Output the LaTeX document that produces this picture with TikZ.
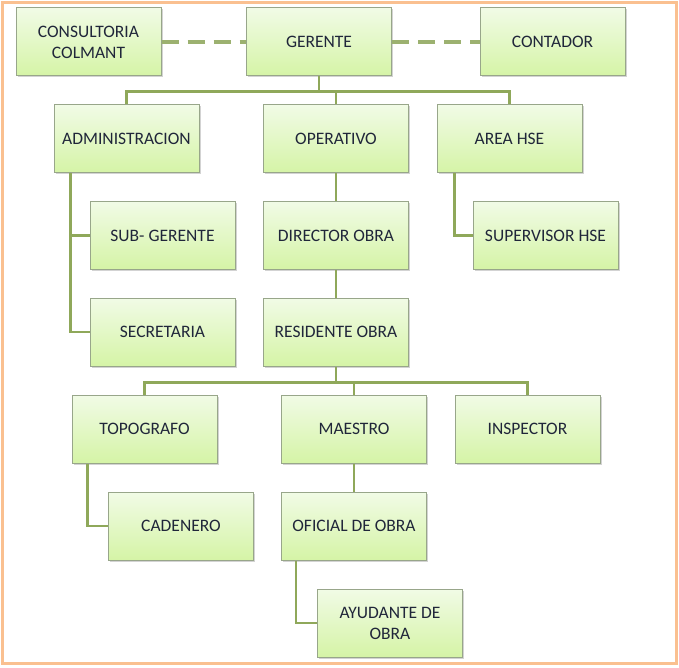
\documentclass[tikz,border=0pt]{standalone}
\usepackage{fontspec}
\setmainfont{Carlito}
\usetikzlibrary{shadows,calc}
\definecolor{boxtop}{HTML}{F1FBE6}
\definecolor{boxbot}{HTML}{D5F4A6}
\definecolor{boxline}{HTML}{98A68A}
\definecolor{conn}{HTML}{8FA85A}
\definecolor{dashc}{HTML}{9CB170}
\definecolor{frame}{HTML}{FAC090}
\definecolor{txt}{HTML}{20263A}
\tikzset{
  orgbox/.style={rectangle, draw=boxline, line width=1pt, top color=boxtop, bottom color=boxbot,
    minimum width=145pt, minimum height=68pt, align=center, font=\fontsize{17.5}{21}\selectfont,
    text=txt, drop shadow={shadow xshift=1.5pt, shadow yshift=-1.5pt, opacity=0.35}},
  link/.style={draw=conn, line width=2.5pt},
  dlink/.style={draw=dashc, line width=4.5pt, dash pattern=on 17pt off 9pt}
}
\begin{document}
\begin{tikzpicture}[x=1pt,y=-1pt]
\useasboundingbox (0,0) rectangle (679,668);
\draw[frame, line width=2.5pt] (2.5,2.5) rectangle (676.5,663.5);
\node[orgbox] (cons) at (88.5,42) {CONSULTORIA\\COLMANT};
\node[orgbox] (ger) at (319,42) {GERENTE};
\node[orgbox] (cont) at (552.5,42) {CONTADOR};
\node[orgbox] (adm) at (126.5,139) {ADMINISTRACION};
\node[orgbox] (oper) at (336,139) {OPERATIVO};
\node[orgbox] (hse) at (509.5,139) {AREA HSE};
\node[orgbox] (sub) at (162.5,235.5) {SUB- GERENTE};
\node[orgbox] (dir) at (336,235.5) {DIRECTOR OBRA};
\node[orgbox] (sup) at (545.5,235.5) {SUPERVISOR HSE};
\node[orgbox] (sec) at (162.5,332) {SECRETARIA};
\node[orgbox] (res) at (336,332) {RESIDENTE OBRA};
\node[orgbox] (topo) at (144.5,429) {TOPOGRAFO};
\node[orgbox] (mae) at (354,429) {MAESTRO};
\node[orgbox] (insp) at (527.5,429) {INSPECTOR};
\node[orgbox] (cad) at (181,526) {CADENERO};
\node[orgbox] (ofi) at (354,526) {OFICIAL DE OBRA};
\node[orgbox] (ayu) at (390,623) {AYUDANTE DE\\OBRA};
% dashed links
\draw[dlink] (cons.east) -- (ger.west);
\draw[dlink] (ger.east) -- (cont.west);
% top bus
\coordinate (bus1) at ($(ger.south)+(0,15)$);
\draw[link] (ger.south) -- (bus1);
\draw[link] (adm.north) |- (bus1) -| (hse.north);
\draw[link] (bus1) -| (oper.north);
% admin branch
\coordinate (admx) at ($(adm.south west)+(17,0)$);
\draw[link] (admx) |- (sub.west);
\draw[link] (admx) |- (sec.west);
% hse branch
\coordinate (hsex) at ($(hse.south west)+(18,0)$);
\draw[link] (hsex) |- (sup.west);
% operativo chain
\draw[link] (oper.south) -- (dir.north);
\draw[link] (dir.south) -- (res.north);
% second bus
\coordinate (bus2) at ($(res.south)+(0,16)$);
\draw[link] (res.south) -- (bus2);
\draw[link] (topo.north) |- (bus2) -| (insp.north);
\draw[link] (bus2) -| (mae.north);
% topo branch
\coordinate (topox) at ($(topo.south west)+(16,0)$);
\draw[link] (topox) |- (cad.west);
% maestro chain
\draw[link] (mae.south) -- (ofi.north);
\coordinate (ofix) at ($(ofi.south west)+(15,0)$);
\draw[link] (ofix) |- (ayu.west);
\end{tikzpicture}
\end{document}
